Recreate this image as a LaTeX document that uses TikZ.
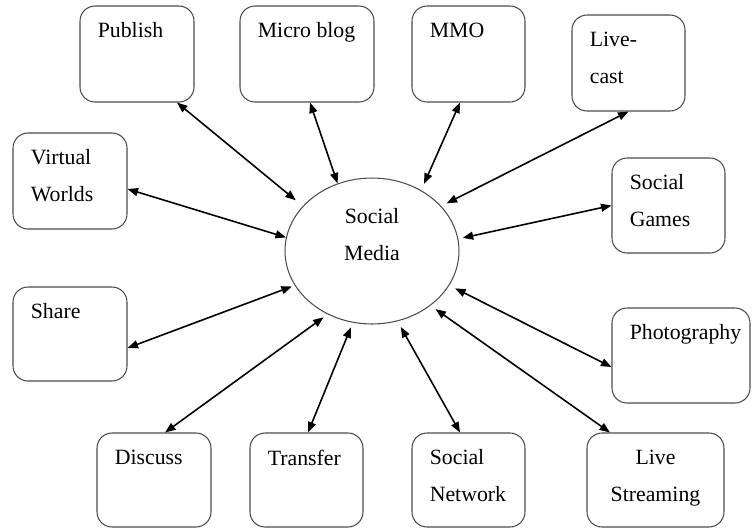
\documentclass[tikz,border=0pt]{standalone}
\usepackage{fontspec}
\setmainfont{Liberation Serif}
\usetikzlibrary{positioning,arrows.meta,shapes.geometric}

\begin{document}
\begin{tikzpicture}[x=0.02cm, y=-0.02cm,
  font=\fontsize{12.4}{21}\selectfont,
  box/.style={draw=black!70, line width=0.6pt, rounded corners=0.3cm,
              minimum width=2.28cm, minimum height=1.92cm, inner sep=0pt},
  hub/.style={draw=black!70, line width=0.6pt, ellipse,
              minimum width=3.48cm, minimum height=2.92cm, inner sep=0pt},
  lbl/.style={anchor=north west, inner sep=0pt, align=left, xshift=0.36cm, yshift=-0.34cm},
  clbl/.style={anchor=north, inner sep=0pt, align=center, yshift=-0.34cm},
  hlbl/.style={anchor=north, inner sep=0pt, align=center, yshift=-0.62cm},
  arr/.style={{Triangle[length=2.1mm,width=1.6mm]}-{Triangle[length=2.1mm,width=1.6mm]}, line width=0.9pt}]
\useasboundingbox (0,0) rectangle (752,529);
% centre
\node[hub, label={[hlbl]north:{Social\\Media}}] (sm) at (372,251) {};
% top row
\node[box, label={[lbl]north west:Publish}] (pub) at (137,54) {};
\node[box, minimum width=2.68cm, label={[lbl]north west:Micro blog}] (mblog) at (307,54) {};
\node[box, minimum width=2.26cm, label={[lbl]north west:MMO}] (mmo) at (468.5,54) {};
\node[box, minimum width=2.26cm, label={[lbl]north west:{Live-\\cast}}] (lcast) at (628.5,63) {};
% sides
\node[box, label={[lbl]north west:{Virtual\\Worlds}}] (vw) at (70,181) {};
\node[box, minimum width=2.26cm, minimum height=1.9cm, label={[lbl]north west:{Social\\Games}}] (sg) at (668.5,205.5) {};
\node[box, minimum height=1.88cm, label={[lbl]north west:Share}] (share) at (70,334) {};
\node[box, minimum width=2.76cm, minimum height=1.9cm, label={[lbl]north west:Photography}] (photo) at (681,355.5) {};
% bottom row
\node[box, minimum height=1.88cm, label={[lbl]north west:Discuss}] (disc) at (154,480) {};
\node[box, minimum width=2.26cm, minimum height=1.88cm, label={[lbl]north west:Transfer}] (trans) at (306.5,480) {};
\node[box, minimum width=2.26cm, minimum height=1.88cm, label={[lbl]north west:{Social\\Network}}] (snet) at (468.5,480) {};
\node[box, minimum width=2.74cm, minimum height=1.88cm, label={[clbl]north:{Live\\Streaming}}] (lstr) at (655.5,480) {};
% links
\draw[arr, shorten >=1.8mm] ([xshift=0.8cm]pub.south) -- (sm.147.5);
\draw[arr] ([xshift=0.06cm]mblog.south) -- (sm.117.9);
\draw[arr, shorten >=1.4mm] ([xshift=-0.17cm]mmo.south) -- (sm.51.2);
\draw[arr, shorten >=1.2mm] (lcast.south) -- (sm.33.9);
\draw[arr] ([yshift=-0.16cm]vw.east) -- (sm.171.5);
\draw[arr, shorten >=0.9mm] (sg.west) -- (sm.8.2);
\draw[arr, shorten >=0.6mm] ([yshift=-0.28cm]share.east) -- (sm.204.5);
\draw[arr, shorten >=1.3mm] ([yshift=-0.23cm]photo.west) -- (sm.-24);
\draw[arr, shorten >=1mm] ([xshift=0.22cm]disc.north) -- (sm.-125.1);
\draw[arr, shorten >=1mm] ([xshift=0.03cm]trans.north) -- (sm.-105.4);
\draw[arr, shorten >=1.3mm] ([xshift=-0.17cm]snet.north) -- (sm.-70.4);
\draw[arr, shorten >=1.2mm] ([xshift=-0.91cm]lstr.north) -- (sm.-43.6);
\end{tikzpicture}
\end{document}
